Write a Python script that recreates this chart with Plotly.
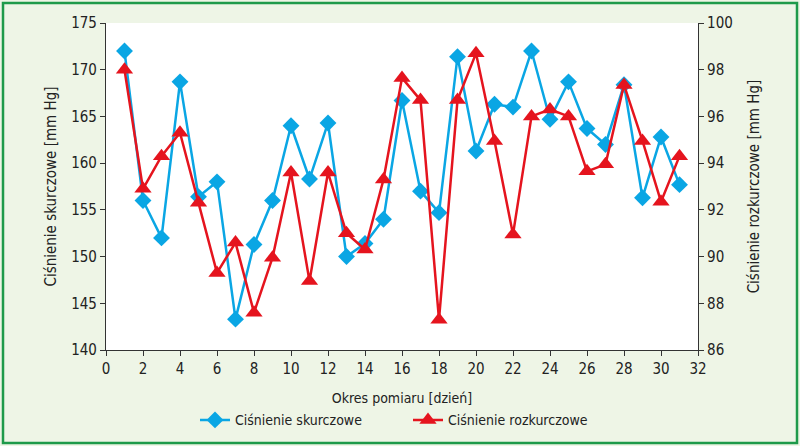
import plotly.graph_objects as go

days = list(range(1, 32))
systolic = [172.0, 156.0, 152.0, 168.7, 156.4, 158.0, 143.3, 151.3, 156.0, 164.0,
            158.3, 164.3, 150.0, 151.4, 154.0, 166.7, 157.0, 154.7, 171.4, 161.3,
            166.3, 166.0, 172.0, 164.7, 168.7, 163.7, 162.0, 168.4, 156.3, 162.8, 157.7]
diastolic = [98.0, 92.9, 94.3, 95.3, 92.3, 89.3, 90.6, 87.6, 89.95, 93.6,
             88.95, 93.6, 91.0, 90.3, 93.3, 97.65, 96.7, 87.3, 96.7, 98.7,
             94.95, 90.95, 96.0, 96.3, 96.0, 93.65, 93.95, 97.35, 94.95, 92.35, 94.3]

name_sys = "Ciśnienie skurczowe"
name_dia = "Ciśnienie rozkurczowe"
x_title = "Okres pomiaru [dzień]"
y_title = "Ciśnienie skurczowe [mm Hg]"
y2_title = "Ciśnienie rozkurczowe [mm Hg]"

FONT = "DejaVu Sans Condensed, Liberation Sans Narrow, Roboto, sans-serif"
AX = "#333333"
BLUE = "#0AA6E4"
RED = "#E5141E"

fig = go.Figure()
fig.add_trace(go.Scatter(
    x=days, y=systolic, name=name_sys, mode="lines+markers",
    line=dict(color=BLUE, width=2.5),
    marker=dict(symbol="diamond", size=13, color=BLUE),
    yaxis="y"))
fig.add_trace(go.Scatter(
    x=days, y=diastolic, name=name_dia, mode="lines+markers",
    line=dict(color=RED, width=2.5),
    marker=dict(symbol="triangle-up", size=15, color=RED),
    yaxis="y2"))

axis_common = dict(showline=True, linecolor=AX, linewidth=1.2, ticks="outside",
                   ticklen=5, tickcolor=AX, tickwidth=1.2, showgrid=False,
                   zeroline=False, automargin=False,
                   tickfont=dict(family=FONT, size=15, color="#222"))

fig.update_layout(
    width=800, height=446, autosize=False,
    margin=dict(l=106, r=102, t=23, b=96, autoexpand=False),
    paper_bgcolor="#EEF5E6", plot_bgcolor="white",
    font=dict(family=FONT, size=15, color="#222"),
    xaxis=dict(range=[0, 32], dtick=2, tick0=0,
               title=dict(text=x_title, font=dict(family=FONT, size=14), standoff=16),
               **axis_common),
    yaxis=dict(range=[140, 175], dtick=5, tick0=140,
               title=dict(text=y_title, font=dict(family=FONT, size=15), standoff=10),
               **axis_common),
    yaxis2=dict(range=[86, 100], dtick=2, tick0=86, overlaying="y", side="right",
                title=dict(text=y2_title, font=dict(family=FONT, size=15), standoff=16),
                **axis_common),
    legend=dict(orientation="h", x=(195 - 106) / 592, xanchor="left", y=-0.215, yanchor="middle",
                font=dict(family=FONT, size=14), bgcolor="rgba(0,0,0,0)",
                itemwidth=30, tracegroupgap=0, entrywidth=168, entrywidthmode="pixels"),
    showlegend=True,
    shapes=[dict(type="rect", xref="paper", yref="paper",
                 x0=(3 - 106) / 592, x1=(797 - 106) / 592,
                 y0=(350 - 443) / 327, y1=(350 - 3) / 327,
                 line=dict(color="#1E9A4A", width=2.5), layer="below")],
)

fig.write_html("out.html", config={"displayModeBar": False},
               post_script="document.body.style.margin='0';document.body.style.overflow='hidden';")
